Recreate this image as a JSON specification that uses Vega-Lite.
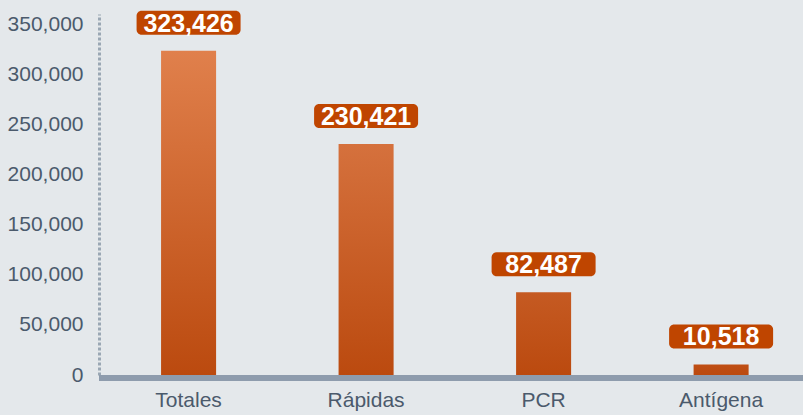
{
  "$schema": "https://vega.github.io/schema/vega-lite/v6.json",
  "width": 704,
  "height": 361,
  "autosize": {"type": "none"},
  "padding": {"left": 99, "top": 14, "right": 0, "bottom": 40},
  "background": "#e4e8eb",
  "config": {
    "view": {"stroke": null},
    "axis": {"grid": false, "ticks": false, "title": null, "labelFont": "Liberation Sans", "labelFontSize": 21, "labelColor": "#4b5a6c"}
  },
  "data": {
    "values": [
      {"tipo": "Totales", "pruebas": 323426},
      {"tipo": "Rápidas", "pruebas": 230421},
      {"tipo": "PCR", "pruebas": 82487},
      {"tipo": "Antígena", "pruebas": 10518}
    ]
  },
  "layer": [
    {
      "transform": [{"filter": "datum.tipo === 'Totales'"}],
      "mark": {"type": "bar", "color": {"gradient": "linear", "x1": 0, "y1": 0, "x2": 0, "y2": 1, "stops": [{"offset": 0, "color": "#e0804c"}, {"offset": 1, "color": "#bb4a0f"}]}},
      "encoding": {
        "x": {"field": "tipo", "type": "nominal", "sort": ["Totales", "Rápidas", "PCR", "Antígena"], "scale": {"domain": ["Totales", "Rápidas", "PCR", "Antígena"], "paddingInner": 0.69, "paddingOuter": 0.328, "align": 0.533}, "axis": {"domain": false, "labelAngle": 0, "labelPadding": 14}},
        "y": {"field": "pruebas", "type": "quantitative", "scale": {"domain": [0, 360000], "nice": false}, "axis": {"values": [0, 50000, 100000, 150000, 200000, 250000, 300000, 350000], "labelExpr": "format(datum.value, ',')", "labelPadding": 16, "domainColor": "#9aa7b4", "domainWidth": 3, "domainDash": [3, 2]}}
      }
    },
    {
      "transform": [{"filter": "datum.tipo === 'Rápidas'"}],
      "mark": {"type": "bar", "color": {"gradient": "linear", "x1": 0, "y1": 0, "x2": 0, "y2": 1, "stops": [{"offset": 0, "color": "#d5713d"}, {"offset": 1, "color": "#bb4a0f"}]}},
      "encoding": {
        "x": {"field": "tipo", "type": "nominal"},
        "y": {"field": "pruebas", "type": "quantitative"}
      }
    },
    {
      "transform": [{"filter": "datum.tipo === 'PCR'"}],
      "mark": {"type": "bar", "color": {"gradient": "linear", "x1": 0, "y1": 0, "x2": 0, "y2": 1, "stops": [{"offset": 0, "color": "#c55a22"}, {"offset": 1, "color": "#bb4a0f"}]}},
      "encoding": {
        "x": {"field": "tipo", "type": "nominal"},
        "y": {"field": "pruebas", "type": "quantitative"}
      }
    },
    {
      "transform": [{"filter": "datum.tipo === 'Antígena'"}],
      "mark": {"type": "bar", "color": {"gradient": "linear", "x1": 0, "y1": 0, "x2": 0, "y2": 1, "stops": [{"offset": 0, "color": "#bf4e14"}, {"offset": 1, "color": "#bb4a0f"}]}},
      "encoding": {
        "x": {"field": "tipo", "type": "nominal"},
        "y": {"field": "pruebas", "type": "quantitative"}
      }
    },
    {
      "mark": {"type": "rule", "color": "#8e9cad", "strokeWidth": 6, "yOffset": 3},
      "encoding": {"y": {"datum": 0, "type": "quantitative"}}
    },
    {
      "mark": {"type": "rect", "width": 104, "height": 24, "yOffset": -28, "cornerRadius": 5, "color": "#bf4500"},
      "encoding": {
        "x": {"field": "tipo", "type": "nominal"},
        "y": {"field": "pruebas", "type": "quantitative"}
      }
    },
    {
      "mark": {"type": "text", "yOffset": -27, "fontSize": 25, "fontWeight": "bold", "font": "Liberation Sans", "color": "white", "baseline": "middle", "align": "center"},
      "encoding": {
        "x": {"field": "tipo", "type": "nominal"},
        "y": {"field": "pruebas", "type": "quantitative"},
        "text": {"field": "pruebas", "type": "quantitative", "format": ","}
      }
    }
  ]
}
